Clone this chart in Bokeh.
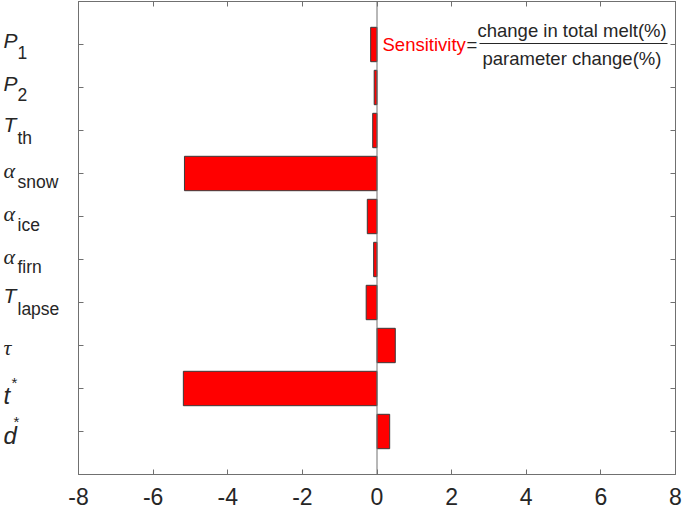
from bokeh.plotting import figure
from bokeh.layouts import row
from bokeh.models import Range1d, FixedTicker, LinearAxis, Span, ColumnDataSource, Label
from bokeh.core.properties import value
from bokeh.embed import file_html
from bokeh.resources import INLINE

# ---- data ----
param_main = ["P", "P", "T", "α", "α", "α", "T", "τ", "t", "d"]
param_sub = ["1", "2", "th", "snow", "ice", "firn", "lapse", "", "", ""]
param_sup = ["", "", "", "", "", "", "", "", "*", "*"]
sensitivity = [-0.17, -0.075, -0.115, -5.16, -0.26, -0.09, -0.29, 0.49, -5.19, 0.34]
x_ticks = [-8, -6, -4, -2, 0, 2, 4, 6, 8]
note_name = "Sensitivity"
note_num = "change in total melt(%)"
note_den = "parameter change(%)"

# ---- layout / style ----
LW = 60                # label strip width (page x 0..60)
W, H = 685 - LW, 508   # main figure
BL, BR, BT, BB = 18, 10, 1, 34
XMIN, XMAX = -8, 8
YTOP, YBOT = 0, 11
FW = W - BL - BR
FH = H - BT - BB
PX_X = FW / (XMAX - XMIN)
PX_Y = FH / (YBOT - YTOP)
PAGE_X0 = LW + BL
PAGE_Y0 = BT
TDY = -7               # text baseline correction (px)

def px2x(px):
    return XMIN + (px - PAGE_X0) / PX_X

def py2y(py):
    return YTOP + (py + TDY - PAGE_Y0) / PX_Y

AX = "#707070"
TXT = "#262626"
SANS = "Liberation Sans"
SERIF = "Liberation Serif"

ypos = list(range(1, len(sensitivity) + 1))
yr = Range1d(YBOT, YTOP)

p = figure(width=W, height=H, output_backend="svg", toolbar_location=None,
           x_range=Range1d(XMIN, XMAX), y_range=yr,
           min_border_left=BL, min_border_right=BR, min_border_top=BT,
           min_border_bottom=BB, x_axis_location=None, y_axis_location=None)
p.background_fill_color = "white"
p.border_fill_color = "white"
p.outline_line_color = AX
p.xgrid.visible = False
p.ygrid.visible = False

def make_axis(kind, loc, show_labels):
    ax = LinearAxis()
    ax.ticker = FixedTicker(ticks=x_ticks if kind == "x" else ypos)
    ax.axis_line_color = AX
    ax.major_tick_line_color = AX
    ax.minor_tick_line_color = None
    ax.major_tick_in = 5
    ax.major_tick_out = 0
    if show_labels:
        ax.major_label_text_font = SANS
        ax.major_label_text_font_size = "23px"
        ax.major_label_text_color = TXT
        ax.major_label_standoff = 13
        ax.major_label_overrides = {t: str(t) for t in x_ticks}
    else:
        ax.major_label_text_font_size = "1px"
        ax.major_label_text_color = None
        ax.major_label_standoff = 0
    p.add_layout(ax, loc)
    return ax

make_axis("x", "below", True)
make_axis("x", "above", False)
make_axis("y", "left", False)
make_axis("y", "right", False)

p.add_layout(Span(location=0, dimension="height", line_color=AX, line_width=1))

p.hbar(y=ypos, left=0, right=sensitivity, height=0.8,
       fill_color="#ff0000", line_color="#3a3a3a", line_width=1)

# ---- formula annotation ----
for txt, px, py, col in [(note_name, 382, 51, "#ff0000"), ("=", 466, 51, TXT),
                         (note_num, 477, 37, TXT), (note_den, 482, 65, TXT)]:
    p.add_layout(Label(x=px2x(px), y=py2y(py), text=txt, text_font=SANS,
                       text_font_size="18.5px", text_color=col,
                       text_baseline="alphabetic", text_align="left"))
p.segment(x0=[px2x(479)], y0=[py2y(43 - TDY)], x1=[px2x(667)], y1=[py2y(43 - TDY)],
          line_color=TXT, line_width=1)

# ---- y labels strip (main letter + subscript / superscript) ----
q = figure(width=LW, height=H, output_backend="svg", toolbar_location=None,
           x_range=Range1d(0, LW), y_range=yr,
           min_border_left=0, min_border_right=0, min_border_top=BT,
           min_border_bottom=BB, x_axis_location=None, y_axis_location=None)
q.outline_line_color = None
q.xgrid.visible = False
q.ygrid.visible = False
q.background_fill_color = "white"
q.border_fill_color = "white"

main_font = [SANS, SANS, SANS, SERIF, SERIF, SERIF, SANS, SERIF, SANS, SANS]
main_size = [21, 21, 21, 22, 22, 22, 21, 22, 24, 24]
main_off = [3, 3, 1, 4, 4, 4, 0, 9, 14, 11]
sub_off = [15, 14, 14, 15, 15, 14, 13, 0, 0, 0]
sup_off = [0, 0, 0, 0, 0, 0, 0, 0, 1, -3]
sup_x = [0, 0, 0, 0, 0, 0, 0, 0, 11, 13]

main_src = ColumnDataSource(dict(
    x=[3] * len(ypos),
    y=[yc + (main_off[i] + TDY) / PX_Y for i, yc in enumerate(ypos)],
    text=param_main, font=main_font,
    size=[f"{s}px" for s in main_size]))
q.text(x="x", y="y", text="text", source=main_src, text_font="font",
       text_font_size="size", text_font_style=value("italic"), text_color=TXT,
       text_baseline="alphabetic", text_align="left")

si = [i for i in range(len(ypos)) if param_sub[i]]
q.text(x=[17] * len(si), y=[ypos[i] + (sub_off[i] + TDY) / PX_Y for i in si],
       text=[param_sub[i] for i in si], text_font=value(SANS),
       text_font_size=value("17.5px"), text_color=TXT,
       text_baseline="alphabetic", text_align="left")

ui = [i for i in range(len(ypos)) if param_sup[i]]
q.text(x=[sup_x[i] for i in ui], y=[ypos[i] + (sup_off[i] + TDY) / PX_Y for i in ui],
       text=[param_sup[i] for i in ui], text_font=value(SANS),
       text_font_size=value("15px"), text_color=TXT,
       text_baseline="alphabetic", text_align="left")

layout = row(q, p, spacing=0)
open("out.html", "w").write(file_html(layout, INLINE))
